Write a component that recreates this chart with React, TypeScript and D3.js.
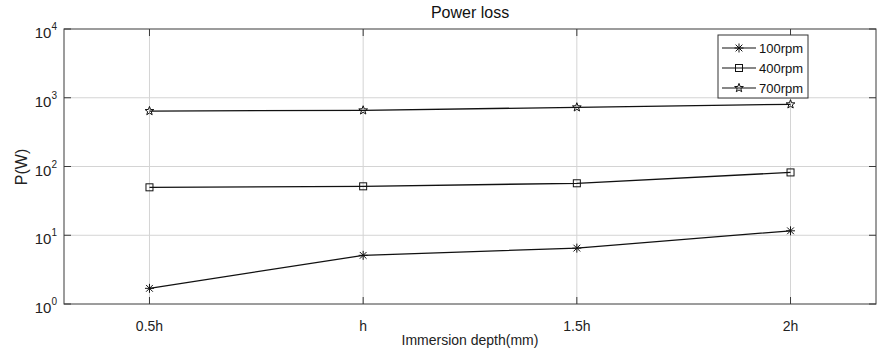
import { useEffect, useRef } from "react"
import * as d3 from "d3"

const categories = ["0.5h", "h", "1.5h", "2h"]
const seriesNames = ["100rpm", "400rpm", "700rpm"]
const rpm100 = [1.69, 5.1, 6.5, 11.6]
const rpm400 = [49.8, 51.5, 57, 82]
const rpm700 = [641, 656, 726, 803]
const yTicks = [1, 10, 100, 1000, 10000]

const W = 877
const H = 361

function drawMarker(g: d3.Selection<SVGGElement, unknown, null, undefined>, kind: string, cx: number, cy: number) {
  const m = g.append("g").attr("transform", `translate(${cx},${cy})`)
  if (kind === "100rpm") {
    const r = 4.5
    const d = r * 0.75
    m.append("path")
      .attr("d", `M0,${-r}V${r}M${-r},0H${r}M${-d},${-d}L${d},${d}M${-d},${d}L${d},${-d}`)
      .attr("stroke", "#111")
      .attr("stroke-width", 1)
      .attr("fill", "none")
  } else if (kind === "400rpm") {
    m.append("rect")
      .attr("x", -3.5)
      .attr("y", -3.5)
      .attr("width", 7)
      .attr("height", 7)
      .attr("fill", "none")
      .attr("stroke", "#111")
      .attr("stroke-width", 1)
  } else {
    const pts: [number, number][] = []
    for (let i = 0; i < 10; i++) {
      const rr = i % 2 === 0 ? 4.6 : 1.9
      const a = -Math.PI / 2 + (i * Math.PI) / 5
      pts.push([rr * Math.cos(a), rr * Math.sin(a)])
    }
    m.append("path")
      .attr("d", "M" + pts.map(p => p.join(",")).join("L") + "Z")
      .attr("fill", "none")
      .attr("stroke", "#111")
      .attr("stroke-width", 1)
  }
}

export default function App() {
  const svgRef = useRef<SVGSVGElement>(null)

  useEffect(() => {
    if (!svgRef.current) return
    const svg = d3.select(svgRef.current)
    svg.selectAll("*").remove()

    const left = 64, right = 876, top = 29, bottom = 304

    const x = d3.scaleLinear().domain([0.6, 4.4]).range([left, right])
    const y = d3.scaleLog().domain([1, 10000]).range([bottom, top])

    svg.append("rect").attr("width", W).attr("height", H).attr("fill", "#fff")

    const g = svg.append("g") as d3.Selection<SVGGElement, unknown, null, undefined>

    // grid
    categories.forEach((_, i) => {
      g.append("line")
        .attr("x1", x(i + 1)).attr("x2", x(i + 1))
        .attr("y1", top).attr("y2", bottom)
        .attr("stroke", "#d4d4d4").attr("stroke-width", 1)
    })
    yTicks.slice(1, -1).forEach(t => {
      g.append("line")
        .attr("x1", left).attr("x2", right)
        .attr("y1", y(t)).attr("y2", y(t))
        .attr("stroke", "#d4d4d4").attr("stroke-width", 1)
    })

    // frame and ticks
    g.append("rect")
      .attr("x", left).attr("y", top)
      .attr("width", right - left).attr("height", bottom - top)
      .attr("fill", "none").attr("stroke", "#3a3a3a").attr("stroke-width", 1)

    categories.forEach((_, i) => {
      const xx = x(i + 1)
      g.append("path")
        .attr("d", `M${xx},${bottom}V${bottom - 7}M${xx},${top}V${top + 7}`)
        .attr("stroke", "#3a3a3a").attr("stroke-width", 1)
    })
    yTicks.forEach(t => {
      const yy = y(t)
      g.append("path")
        .attr("d", `M${left},${yy}H${left + 7}M${right},${yy}H${right - 7}`)
        .attr("stroke", "#3a3a3a").attr("stroke-width", 1)
    })

    // y tick labels
    yTicks.forEach(t => {
      const txt = g.append("text")
        .attr("x", 57)
        .attr("y", y(t) + 9)
        .attr("text-anchor", "end")
        .style("font-family", "'Liberation Sans', Arial, sans-serif")
        .style("font-size", "15px")
        .style("fill", "#222")
      txt.append("tspan").text("10")
      txt.append("tspan")
        .attr("dy", -8)
        .style("font-size", "10px")
        .text(String(Math.round(Math.log10(t))))
    })

    // x tick labels
    categories.forEach((c, i) => {
      g.append("text")
        .attr("x", x(i + 1))
        .attr("y", 331)
        .attr("text-anchor", "middle")
        .style("font-family", "'Liberation Sans Narrow', 'Liberation Sans', Arial, sans-serif")
        .style("font-size", "14px")
        .style("fill", "#222")
        .text(c)
    })

    // axis labels and title
    g.append("text")
      .attr("x", (left + right) / 2)
      .attr("y", 345)
      .attr("text-anchor", "middle")
      .style("font-family", "'Liberation Sans Narrow', 'Liberation Sans', Arial, sans-serif")
      .style("font-size", "14px")
      .style("fill", "#222")
      .text("Immersion depth(mm)")

    g.append("text")
      .attr("transform", `translate(21,167) rotate(-90)`)
      .attr("text-anchor", "middle")
      .attr("dy", "0.35em")
      .style("font-family", "'Liberation Sans', Arial, sans-serif")
      .style("font-size", "16px")
      .style("fill", "#222")
      .text("P(W)")

    g.append("text")
      .attr("x", (left + right) / 2)
      .attr("y", 18)
      .attr("text-anchor", "middle")
      .style("font-family", "'Liberation Sans', Arial, sans-serif")
      .style("font-size", "16px")
      .style("fill", "#111")
      .text("Power loss")

    // series
    const allSeries = [rpm100, rpm400, rpm700]
    const line = d3.line<number>()
      .x((_, i) => x(i + 1))
      .y(d => y(d))

    allSeries.forEach((vals, si) => {
      g.append("path")
        .datum(vals)
        .attr("d", line)
        .attr("fill", "none")
        .attr("stroke", "#111")
        .attr("stroke-width", 1.3)
      vals.forEach((v, i) => drawMarker(g, seriesNames[si], x(i + 1), y(v)))
    })

    // legend
    const lg = g.append("g")
    lg.append("rect")
      .attr("x", 718).attr("y", 35)
      .attr("width", 90).attr("height", 63)
      .attr("fill", "#fff").attr("stroke", "#333").attr("stroke-width", 1)
    const ly = d3.scalePoint().domain(seriesNames).range([48, 88])
    seriesNames.forEach(name => {
      const yy = ly(name) || 0
      lg.append("line")
        .attr("x1", 722).attr("x2", 756)
        .attr("y1", yy).attr("y2", yy)
        .attr("stroke", "#111").attr("stroke-width", 1.2)
      drawMarker(lg as d3.Selection<SVGGElement, unknown, null, undefined>, name, 739, yy)
      lg.append("text")
        .attr("x", 759)
        .attr("y", yy + 4.5)
        .style("font-family", "'Liberation Sans', Arial, sans-serif")
        .style("font-size", "13px")
        .style("fill", "#111")
        .text(name)
    })
  }, [])

  return (
    <div style={{ position: "absolute", left: 0, top: 0 }}>
      <svg ref={svgRef} width={W} height={H} style={{ display: "block" }} />
    </div>
  )
}
